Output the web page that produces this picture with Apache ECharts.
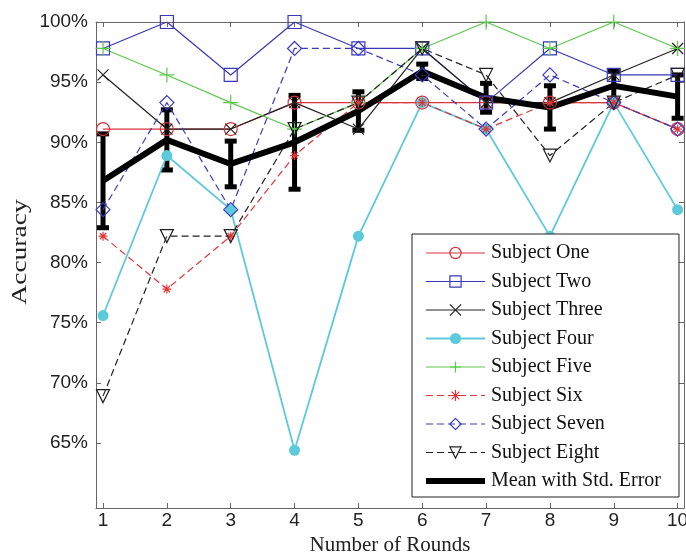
<!DOCTYPE html>
<html>
<head>
<meta charset="utf-8">
<script src="https://cdn.jsdelivr.net/npm/echarts@6/dist/echarts.min.js"></script>
<style>
  html, body { margin: 0; padding: 0; background: #fff; }
  #chart { width: 686px; height: 552px; }
</style>
</head>
<body>
<div id="chart"></div>
<script>
// rounds 1..10, accuracy in percent
const rounds = [1, 2, 3, 4, 5, 6, 7, 8, 9, 10];
const yTicks = [65, 70, 75, 80, 85, 90, 95, 100];

const subjectOne   = [91.1, 91.1, 91.1, 93.3, 93.3, 93.3, 93.3, 93.3, 93.3, 91.1];
const subjectTwo   = [97.8, 100, 95.6, 100, 97.8, 97.8, 93.3, 97.8, 95.6, 95.6];
const subjectThree = [95.6, 91.1, 91.1, 93.3, 91.1, 97.8, 93.3, 93.3, 95.6, 97.8];
const subjectFour  = [75.6, 88.9, 84.4, 64.4, 82.2, 93.3, 91.1, 82.2, 93.3, 84.4];
const subjectFive  = [97.8, 95.6, 93.3, 91.1, 93.3, 97.8, 100, 97.8, 100, 97.8];
const subjectSix   = [82.2, 77.8, 82.2, 88.9, 93.3, 93.3, 91.1, 93.3, 93.3, 91.1];
const subjectSeven = [84.4, 93.3, 84.4, 97.8, 97.8, 95.6, 91.1, 95.6, 93.3, 91.1];
const subjectEight = [68.9, 82.2, 82.2, 91.1, 93.3, 97.8, 95.6, 88.9, 93.3, 95.6];

const meanValues = [86.8, 90.2, 88.2, 90.0, 92.6, 95.9, 93.7, 92.9, 94.7, 93.8];
const stdError   = [3.9, 2.5, 1.9, 3.9, 1.6, 0.6, 1.2, 1.8, 1.2, 1.8];

const X_MARK = 'path://M0,0L10,10M0,10L10,0';
const PLUS = 'path://M5,0L5,10M0,5L10,5';
const STAR = 'path://M5,0L5,10M0,5L10,5M1.5,1.5L8.5,8.5M1.5,8.5L8.5,1.5';
const CLEAR = 'rgba(255,255,255,0)';

function pairs(values) {
  return rounds.map((r, i) => [r, values[i]]);
}

function subject(name, values, color, symbol, size, dashed, filled, rotate) {
  return {
    name: name,
    type: 'line',
    data: pairs(values),
    symbol: symbol,
    symbolSize: size,
    symbolRotate: rotate || 0,
    lineStyle: { color: color, width: name === 'Subject Four' ? 1.8 : 1.2, type: dashed ? [7, 4] : 'solid' },
    itemStyle: { color: filled ? color : CLEAR, borderColor: color, borderWidth: filled ? 0 : 1.2 },
    emphasis: { disabled: true },
    animation: false
  };
}

const chart = echarts.init(document.getElementById('chart'));

const axisLineStyle = { color: '#666', width: 1 };
const tickFont = { fontFamily: 'Liberation Sans', fontSize: 19, color: '#222' };

const option = {
  backgroundColor: '#fff',
  animation: false,
  grid: { left: 96, right: 2, top: 22, bottom: 44, outerBoundsMode: 'none', containLabel: false },
  legend: {
    orient: 'vertical',
    left: 412,
    top: 234,
    padding: [9, 18, 6, 11],
    itemWidth: 59,
    itemHeight: 14,
    itemGap: 8.5,
    backgroundColor: '#fff',
    borderColor: '#222',
    borderWidth: 1,
    borderRadius: 0,
    selectedMode: false,
    lineStyle: { width: 'inherit' },
    itemStyle: { borderWidth: 'inherit' },
    textStyle: { fontFamily: 'Liberation Serif', fontSize: 20, color: '#111', padding: [0, 0, 0, 1] },
    data: ['Subject One', 'Subject Two', 'Subject Three', 'Subject Four', 'Subject Five',
           'Subject Six', 'Subject Seven', 'Subject Eight',
           { name: 'Mean with Std. Error', itemStyle: { opacity: 0 } }]
  },
  xAxis: [
    {
      type: 'value', min: 0.89, max: 10.1, position: 'bottom',
      name: 'Number of Rounds', nameLocation: 'middle', nameGap: 25,
      nameTextStyle: { fontFamily: 'Liberation Serif', fontSize: 21, color: '#222' },
      axisLine: { show: true, onZero: false, lineStyle: axisLineStyle },
      axisTick: { show: true, inside: true, length: 5, customValues: rounds, lineStyle: axisLineStyle },
      axisLabel: Object.assign({ customValues: rounds, margin: 3 }, tickFont),
      splitLine: { show: false }
    },
    {
      type: 'value', min: 0.89, max: 10.1, position: 'top',
      axisLine: { show: true, onZero: false, lineStyle: axisLineStyle },
      axisTick: { show: true, inside: true, length: 5, customValues: rounds, lineStyle: axisLineStyle },
      axisLabel: { show: false },
      splitLine: { show: false }
    }
  ],
  yAxis: [
    {
      type: 'value', min: 59.6, max: 100, position: 'left',
      axisLine: { show: true, onZero: false, lineStyle: axisLineStyle },
      axisTick: { show: true, inside: true, length: 5, customValues: yTicks, lineStyle: axisLineStyle },
      axisLabel: Object.assign({ customValues: yTicks, margin: 8, formatter: v => v + '%' }, tickFont),
      splitLine: { show: false }
    },
    {
      type: 'value', min: 59.6, max: 100, position: 'right',
      axisLine: { show: true, onZero: false, lineStyle: axisLineStyle },
      axisTick: { show: true, inside: true, length: 5, customValues: yTicks, lineStyle: axisLineStyle },
      axisLabel: { show: false },
      splitLine: { show: false }
    }
  ],
  graphic: [
    {
      type: 'text',
      x: 20,
      y: 252,
      rotation: Math.PI / 2,
      scaleX: 1.25,
      style: {
        text: 'Accuracy',
        font: '22px "Liberation Serif"',
        fill: '#222',
        align: 'center',
        verticalAlign: 'middle'
      }
    }
  ],
  series: [
    subject('Subject One', subjectOne, '#d8323a', 'circle', 13, false, false),
    subject('Subject Two', subjectTwo, '#3838b8', 'rect', 13, false, false),
    subject('Subject Three', subjectThree, '#222222', X_MARK, 11, false, false),
    subject('Subject Four', subjectFour, '#5ccadb', 'circle', 11, false, true),
    subject('Subject Five', subjectFive, '#5cc84a', PLUS, 15, false, false),
    subject('Subject Six', subjectSix, '#e0353a', STAR, 9, true, false),
    subject('Subject Seven', subjectSeven, '#3a3ac0', 'diamond', 14, true, false),
    subject('Subject Eight', subjectEight, '#222222', 'triangle', 13, true, false, 180),
    {
      name: 'Mean with Std. Error',
      type: 'line',
      data: pairs(meanValues),
      symbol: 'none',
      lineStyle: { color: '#000', width: 6 },
      itemStyle: { color: '#000' },
      emphasis: { disabled: true },
      z: 3
    },
    {
      name: 'errorbars',
      type: 'custom',
      data: rounds.map((r, i) => [r, meanValues[i] - stdError[i], meanValues[i] + stdError[i]]),
      encode: { x: 0, y: [1, 2] },
      z: 3,
      renderItem: function (params, api) {
        const x = api.value(0);
        const lo = api.coord([x, api.value(1)]);
        const hi = api.coord([x, api.value(2)]);
        const w = 6;
        const st = { stroke: '#000', lineWidth: 5 };
        return {
          type: 'group',
          children: [
            { type: 'line', shape: { x1: lo[0], y1: lo[1], x2: hi[0], y2: hi[1] }, style: st },
            { type: 'line', shape: { x1: lo[0] - w, y1: lo[1], x2: lo[0] + w, y2: lo[1] }, style: st },
            { type: 'line', shape: { x1: hi[0] - w, y1: hi[1], x2: hi[0] + w, y2: hi[1] }, style: st }
          ]
        };
      }
    }
  ]
};

chart.setOption(option);
</script>
</body>
</html>
